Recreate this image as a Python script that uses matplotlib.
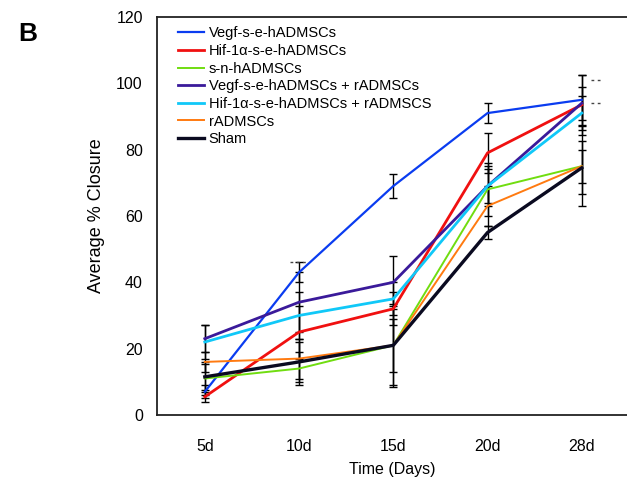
import matplotlib.pyplot as plt
import numpy as np

plt.rcParams['font.family'] = ['Liberation Sans', 'DejaVu Sans']

# du lieu doc tu hinh
days = ["5d", "10d", "15d", "20d", "28d"]
names = ["Vegf-s-e-hADMSCs", "Hif-1\u03b1-s-e-hADMSCs", "s-n-hADMSCs",
         "Vegf-s-e-hADMSCs + rADMSCs", "Hif-1\u03b1-s-e-hADMSCs + rADMSCS",
         "rADMSCs", "Sham"]
vegf = [7, 43, 69, 91, 95]
hif = [5.5, 25, 32, 79, 93.5]
sn = [11, 14, 21, 68, 75]
vegf_r = [23, 34, 40, 69, 94]
hif_r = [22, 30, 35, 69, 91]
radm = [16, 17, 21, 63, 75]
sham = [11.5, 16, 21, 55, 74.5]
err_vegf = [2, 3, 3.5, 3, 7.5]
err_hif = [1.5, 8, 5, 6, 9]
err_sn = [5, 5, 12, 8, 5]
err_vegf_r = [4, 9, 8, 5, 5]
err_hif_r = [5, 7, 5, 6, 5]
err_radm = [3, 6, 12.5, 6, 12]
err_sham = [4, 6, 8, 2, 8]
sig_x = [1, 4, 4]
sig_y = [46, 101, 94]

series = [vegf, hif, sn, vegf_r, hif_r, radm, sham]
errs = [err_vegf, err_hif, err_sn, err_vegf_r, err_hif_r, err_radm, err_sham]
colors = ["#0a3cf0", "#f01010", "#70dd10", "#3a1a9a", "#10c8f8", "#ff7a10", "#0a0a20"]
widths = [1.6, 2.0, 1.4, 2.0, 2.0, 1.4, 2.4]

fig = plt.figure(figsize=(6.27, 4.82), dpi=100)
ax = fig.add_axes([0.250, 0.139, 0.75, 0.826])
x = np.arange(len(days))

for s, e in zip(series, errs):
    ax.errorbar(x, s, yerr=e, fmt="none", ecolor="black", elinewidth=1.0,
                capsize=3, capthick=1.0, zorder=1)
for s, n, c, w in zip(series, names, colors, widths):
    ax.plot(x, s, color=c, lw=w, label=n, zorder=2)

for sx, sy in zip(sig_x, sig_y):
    if sx == 4:
        ax.plot([sx + 0.1, sx + 0.22], [sy, sy], ls=(0, (2, 2.5)), color="#444444", lw=1)
    else:
        ax.plot([sx - 0.1, sx + 0.1], [sy, sy], ls=(0, (2, 2.5)), color="#444444", lw=1)

ax.set_xlim(-0.51, 4.48)
ax.set_ylim(0, 120)
ax.set_yticks(range(0, 121, 20))
ax.set_xticks(x)
ax.set_xticklabels(days)
ax.tick_params(length=0, labelsize=11.5)
ax.tick_params(axis="x", pad=17)
ax.tick_params(axis="y", pad=10)
for sp in ["left", "top", "bottom"]:
    ax.spines[sp].set_linewidth(1.3)
    ax.spines[sp].set_color("#222222")
ax.spines["right"].set_visible(False)

ax.set_xlabel("Time (Days)", fontsize=11.5, labelpad=6)
ax.set_ylabel("Average % Closure", fontsize=13, labelpad=8)

ax.legend(loc="upper left", frameon=False, fontsize=10.5, handlelength=1.8,
          handletextpad=0.3, labelspacing=0.25, borderaxespad=0.25,
          bbox_to_anchor=(0.025, 1.0))

fig.text(0.029, 0.915, "B", fontsize=19, fontweight="bold")

plt.savefig("out.png", dpi=100)
